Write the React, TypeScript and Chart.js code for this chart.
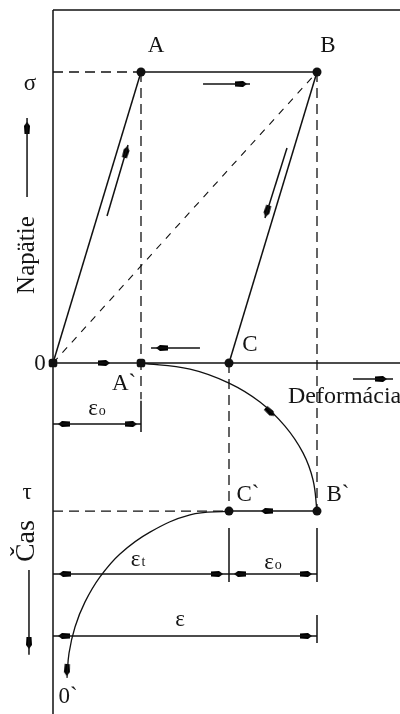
import { useEffect, useRef } from "react";
import { Chart, registerables } from "chart.js";

Chart.register(...registerables);

// Horizontal axis: deformation, one unit = elastic strain ε0.
// Vertical axis: stress above the zero line, time running downward below it.
const EPS_0 = 1; // elastic strain ε0 (A, A`)
const EPS_T = 2; // creep strain εt left after unloading (C, C`)
const EPS_TOTAL = 3; // total strain ε = εt + ε0 (B, B`)
const SIGMA = 10; // applied stress σ
const TAU = -5.09; // loading time τ

const X_MIN = -0.6023;
const X_MAX = 3.9432;
const Y_MIN = -12.062;
const Y_MAX = 12.474;
const FRAME_TOP = 12.13;

// levels of the dimension lines under the diagram
const DIM_EPS0 = -2.1;
const DIM_EPST = -7.25;
const DIM_EPS = -9.38;

type P = [number, number];

// state points of the cycle
const pointsRound: P[] = [
  [EPS_0, SIGMA], // A
  [EPS_TOTAL, SIGMA], // B
  [EPS_T, 0], // C
  [EPS_T, TAU], // C`
  [EPS_TOTAL, TAU], // B`
];
const pointsSquare: P[] = [
  [0, 0], // 0
  [EPS_0, 0], // A`
];

// creep of strain with time: A` -> B`
const creepCurve: P[] = [
  [1.0, 0.0],
  [1.557, -0.21],
  [2.0, -0.69],
  [2.352, -1.34],
  [2.636, -2.17],
  [2.841, -3.09],
  [2.955, -4.02],
  [3.0, TAU],
];

// recovery after unloading: C` -> 0`
const recoveryCurve: P[] = [
  [2.0, TAU],
  [1.557, -5.22],
  [1.102, -5.81],
  [0.761, -6.56],
  [0.534, -7.35],
  [0.364, -8.21],
  [0.25, -9.07],
  [0.182, -9.97],
  [0.159, -10.82],
];

const solidLines: P[][] = [
  [[0, FRAME_TOP], [X_MAX, FRAME_TOP]],
  [[0, FRAME_TOP], [0, Y_MIN]],
  [[EPS_0, SIGMA], [EPS_TOTAL, SIGMA]],
  [[0, 0], [X_MAX, 0]],
  [[0, 0], [EPS_0, SIGMA]],
  [[EPS_TOTAL, SIGMA], [EPS_T, 0]],
  [[EPS_T, TAU], [EPS_TOTAL, TAU]],
  // extension lines
  [[EPS_0, -1.3], [EPS_0, -2.37]],
  [[EPS_T, -5.67], [EPS_T, -7.53]],
  [[EPS_TOTAL, -5.67], [EPS_TOTAL, -7.53]],
  [[EPS_TOTAL, -8.66], [EPS_TOTAL, -9.62]],
  // dimension lines
  [[0, DIM_EPS0], [EPS_0, DIM_EPS0]],
  [[0, DIM_EPST], [EPS_T, DIM_EPST]],
  [[EPS_T, DIM_EPST], [EPS_TOTAL, DIM_EPST]],
  [[0, DIM_EPS], [EPS_TOTAL, DIM_EPS]],
  // direction arrows
  [[0.614, 5.05], [0.852, 7.49]],
  [[2.659, 7.39], [2.409, 4.98]],
  [[1.705, 9.59], [2.239, 9.59]],
  [[1.67, 0.515], [1.114, 0.515]],
  [[3.409, -0.55], [3.864, -0.55]],
  [[-0.295, 5.7], [-0.295, 8.42]],
  [[-0.273, -7.11], [-0.273, -10.03]],
];

const dashedLines: P[][] = [
  [[0, SIGMA], [EPS_0, SIGMA]],
  [[EPS_0, SIGMA], [EPS_0, -1.25]],
  [[EPS_TOTAL, SIGMA], [EPS_TOTAL, TAU]],
  [[EPS_T, 0], [EPS_T, TAU]],
  [[0, TAU], [EPS_T, TAU]],
];
const secantLine: P[] = [[0, 0], [EPS_TOTAL, SIGMA]];

// arrow heads: x, y, direction in degrees (clockwise on screen)
const arrowHeads: [number, number, number][] = [
  [0.83, 7.25, -73.5],
  [2.432, 5.22, 107.4],
  [2.136, 9.59, 0],
  [1.239, 0.515, 180],
  [3.727, -0.55, 0],
  [-0.295, 8.08, -90],
  [-0.273, -9.62, 90],
  [2.466, -1.68, 42],
  [0.159, -10.55, 93],
  [0.58, 0, 0],
  [2.432, TAU, 180],
  [0.125, DIM_EPS0, 180],
  [0.886, DIM_EPS0, 0],
  [0.136, DIM_EPST, 180],
  [1.864, DIM_EPST, 0],
  [2.125, DIM_EPST, 180],
  [2.875, DIM_EPST, 0],
  [0.125, DIM_EPS, 180],
  [2.875, DIM_EPS, 0],
];

type Label = {
  text: string;
  sub?: string;
  x: number;
  y: number;
  size?: number;
  rotate?: boolean;
  align?: "left" | "center";
};

const labels: Label[] = [
  { text: "A", x: 1.17, y: 10.89 },
  { text: "B", x: 3.125, y: 10.89 },
  { text: "σ", x: -0.261, y: 9.59 },
  { text: "Napätie", x: -0.295, y: 3.71, rotate: true, size: 25 },
  { text: "0", x: -0.148, y: -0.03 },
  { text: "A`", x: 0.807, y: -0.72 },
  { text: "C", x: 2.239, y: 0.62 },
  { text: "Deformácia", x: 2.67, y: -1.17, align: "left", size: 24 },
  { text: "ε", sub: "o", x: 0.5, y: -1.58 },
  { text: "τ", x: -0.295, y: -4.47 },
  { text: "Čas", x: -0.295, y: -6.12, rotate: true, size: 28 },
  { text: "C`", x: 2.216, y: -4.54 },
  { text: "B`", x: 3.239, y: -4.54 },
  { text: "ε", sub: "t", x: 0.966, y: -6.77 },
  { text: "ε", sub: "o", x: 2.5, y: -6.87 },
  { text: "ε", x: 1.443, y: -8.83 },
  { text: "0`", x: 0.17, y: -11.48 },
];

const INK = "#111";
const FONT = '"Liberation Serif", "DejaVu Serif", serif';

// small filled arrow head used as a point style
function makeArrowHead(): HTMLCanvasElement {
  const c = document.createElement("canvas");
  c.width = 12;
  c.height = 6;
  const g = c.getContext("2d")!;
  g.fillStyle = "#000";
  g.beginPath();
  g.moveTo(0, 0.5);
  g.lineTo(8, 0);
  g.lineTo(12, 3);
  g.lineTo(8, 6);
  g.lineTo(0, 5.5);
  g.closePath();
  g.fill();
  return c;
}

const toXY = (pts: P[]) => pts.map(([x, y]) => ({ x, y }));

const labelPlugin = {
  id: "diagramLabels",
  afterDatasetsDraw(chart: any) {
    const { ctx, scales } = chart;
    ctx.save();
    ctx.fillStyle = "#151515";
    for (const l of labels) {
      const px = scales.x.getPixelForValue(l.x);
      const py = scales.y.getPixelForValue(l.y);
      const size = l.size ?? 23;
      ctx.save();
      ctx.translate(px, py);
      if (l.rotate) ctx.rotate(-Math.PI / 2);
      ctx.font = `${size}px ${FONT}`;
      ctx.textBaseline = "middle";
      const mainW = ctx.measureText(l.text).width;
      let subW = 0;
      const subSize = Math.round(size * 0.62);
      if (l.sub) {
        ctx.font = `${subSize}px ${FONT}`;
        subW = ctx.measureText(l.sub).width + 1;
      }
      const start = l.align === "left" ? 0 : -(mainW + subW) / 2;
      ctx.font = `${size}px ${FONT}`;
      ctx.textAlign = "left";
      ctx.fillText(l.text, start, 0);
      if (l.sub) {
        ctx.font = `${subSize}px ${FONT}`;
        ctx.fillText(l.sub, start + mainW + 1, 2);
      }
      ctx.restore();
    }
    ctx.restore();
  },
};

const whiteBg = {
  id: "whiteBg",
  beforeDraw(chart: any) {
    const { ctx, width, height } = chart;
    ctx.save();
    ctx.fillStyle = "#fff";
    ctx.fillRect(0, 0, width, height);
    ctx.restore();
  },
};

export default function App() {
  const ref = useRef<HTMLCanvasElement | null>(null);

  useEffect(() => {
    if (!ref.current) return;
    const head = makeArrowHead();
    const lineBase = {
      showLine: true,
      pointRadius: 0,
      borderColor: INK,
      borderWidth: 1.5,
      fill: false,
      clip: false as const,
    };
    const datasets: any[] = [
      ...solidLines.map((seg) => ({ ...lineBase, data: toXY(seg) })),
      ...dashedLines.map((seg) => ({
        ...lineBase,
        borderWidth: 1.3,
        borderDash: [10, 6],
        data: toXY(seg),
      })),
      { ...lineBase, borderWidth: 1.1, borderDash: [7, 7], data: toXY(secantLine) },
      { ...lineBase, borderWidth: 1.3, tension: 0.4, data: toXY(creepCurve) },
      { ...lineBase, borderWidth: 1.3, tension: 0.4, data: toXY(recoveryCurve) },
      {
        showLine: false,
        clip: false,
        data: arrowHeads.map(([x, y]) => ({ x, y })),
        pointStyle: head,
        pointRotation: arrowHeads.map((a) => a[2]),
        pointRadius: 4,
      },
      {
        showLine: false,
        clip: false,
        data: toXY(pointsRound),
        pointStyle: "circle",
        pointRadius: 4.5,
        pointBackgroundColor: INK,
        pointBorderColor: INK,
        pointBorderWidth: 0,
      },
      {
        showLine: false,
        clip: false,
        data: toXY(pointsSquare),
        pointStyle: "rectRounded",
        pointRadius: 5,
        pointBackgroundColor: INK,
        pointBorderColor: INK,
        pointBorderWidth: 0,
      },
    ];

    const chart = new Chart(ref.current, {
      type: "scatter",
      data: { datasets },
      options: {
        animation: false,
        responsive: false,
        devicePixelRatio: 1,
        layout: { padding: 0, autoPadding: false },
        events: [],
        plugins: {
          legend: { display: false },
          tooltip: { enabled: false },
        },
        scales: {
          x: { type: "linear", min: X_MIN, max: X_MAX, display: false },
          y: { type: "linear", min: Y_MIN, max: Y_MAX, display: false },
        },
      },
      plugins: [whiteBg, labelPlugin],
    });
    return () => chart.destroy();
  }, []);

  return (
    <div style={{ position: "absolute", left: 0, top: 0, width: 400, height: 714, background: "#fff" }}>
      <canvas ref={ref} width={400} height={714} style={{ display: "block" }} />
    </div>
  );
}
